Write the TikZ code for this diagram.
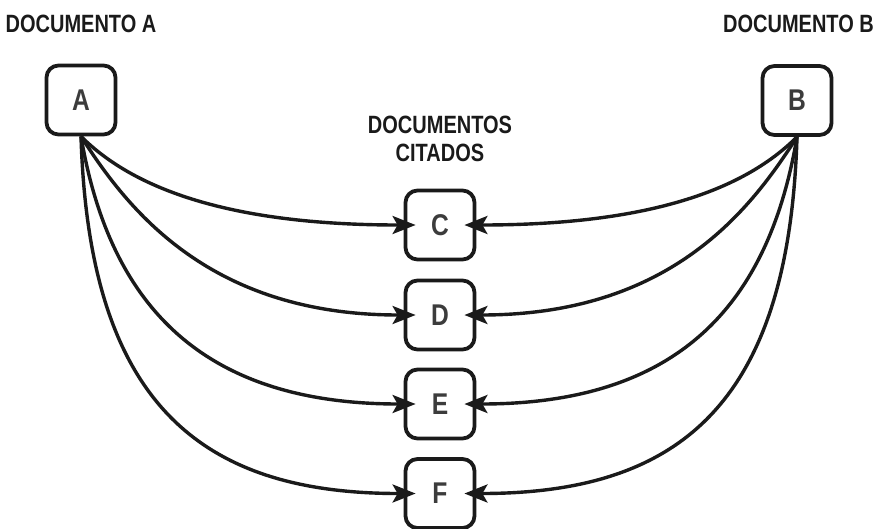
\documentclass[tikz,border=0pt]{standalone}
\usepackage{fontspec}
\setmainfont{Liberation Sans}
\newfontfamily\titlefont[FakeStretch=0.8]{Liberation Sans Bold}
\newfontfamily\boxfont[FakeStretch=0.82]{Liberation Sans Bold}
\usetikzlibrary{arrows.meta}
\definecolor{ink}{HTML}{1A1A1A}
\tikzset{
  docbox/.style={draw=ink, line width=3.8pt, rounded corners=12pt, minimum size=69pt, inner sep=0pt, text=ink!85, font=\boxfont\fontsize{30}{30}\selectfont},
  title/.style={text=ink, font=\titlefont\fontsize{25}{28}\selectfont, align=center, inner sep=0pt},
  cite/.style={draw=ink, line width=3.4pt, -{Stealth[length=23pt,width=18pt,inset=5pt]}, shorten >=-12pt}
}
\begin{document}
\begin{tikzpicture}[x=1pt,y=-1pt]
\useasboundingbox (0,0) rectangle (874,528);
\node[title] (ta) at (81,23.5) {DOCUMENTO A};
\node[title] (tb) at (798.5,23.5) {DOCUMENTO B};
\node[title] (tc) at (440,139) {DOCUMENTOS\\CITADOS};
\node[docbox] (A) at (81,100) {A};
\node[docbox] (B) at (797,100.5) {B};
\node[docbox] (C) at (440,225) {C};
\node[docbox] (D) at (440,315) {D};
\node[docbox] (E) at (440,404) {E};
\node[docbox] (F) at (440,493.5) {F};
\draw[cite] (A.south) .. controls +(45,45) and +(-190,0) .. (C.west);
\draw[cite] (A.south) .. controls +(46,72) and +(-195,0) .. (D.west);
\draw[cite] (A.south) .. controls +(28,165) and +(-205,0) .. (E.west);
\draw[cite] (A.south) .. controls +(8,265) and +(-205,0) .. (F.west);
\draw[cite] (B.south) .. controls +(-45,45) and +(190,0) .. (C.east);
\draw[cite] (B.south) .. controls +(-46,72) and +(195,0) .. (D.east);
\draw[cite] (B.south) .. controls +(-28,165) and +(205,0) .. (E.east);
\draw[cite] (B.south) .. controls +(-8,265) and +(205,0) .. (F.east);
\end{tikzpicture}
\end{document}
